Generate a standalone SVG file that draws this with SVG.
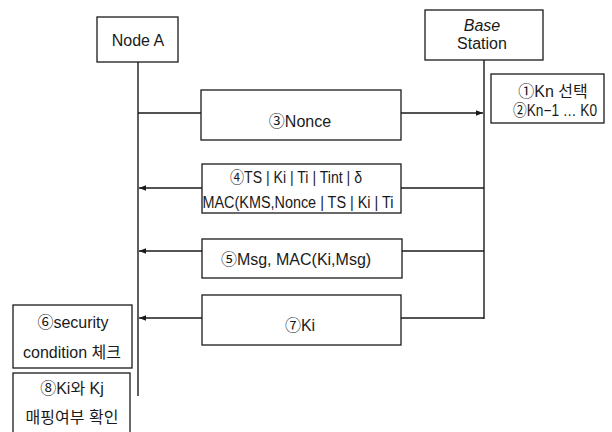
<svg xmlns="http://www.w3.org/2000/svg" width="612" height="432" viewBox="0 0 612 432">
  <style>
    .box { fill: #ffffff; stroke: #1a1a1a; stroke-width: 1.3; }
    .line { stroke: #1a1a1a; stroke-width: 1.4; fill: none; }
    .t { font-family: "Liberation Sans", "Noto Sans CJK KR", sans-serif; font-size: 16px; fill: #1a1a1a; text-anchor: middle; }
  </style>
  <defs>
    <marker id="arrow" viewBox="0 0 10 10" refX="10" refY="5" markerWidth="7" markerHeight="7" orient="auto" markerUnits="userSpaceOnUse">
      <path d="M0,1 L10,5 L0,9 Z" fill="#1a1a1a"/>
    </marker>
  </defs>
  <rect width="612" height="432" fill="#ffffff"/>

  <!-- lifelines and messages -->
  <g id="connectors">
    <line class="line" x1="138" y1="62" x2="138" y2="396"/>
    <line class="line" x1="484" y1="60" x2="484" y2="319"/>
    <line class="line" x1="138" y1="113" x2="483" y2="113" marker-end="url(#arrow)"/>
    <line class="line" x1="484" y1="188" x2="139" y2="188" marker-end="url(#arrow)"/>
    <line class="line" x1="484" y1="251" x2="139" y2="251" marker-end="url(#arrow)"/>
    <line class="line" x1="484" y1="318" x2="139" y2="318" marker-end="url(#arrow)"/>
  </g>

  <g id="node-a">
    <rect class="box" x="97" y="17" width="81" height="45"/>
    <text class="t" x="138" y="46">Node A</text>
  </g>

  <g id="base-station">
    <rect class="box" x="425" y="10" width="118" height="50"/>
    <text class="t" x="482" y="31" font-style="italic">Base</text>
    <text class="t" x="482" y="49">Station</text>
  </g>

  <g id="key-select">
    <rect class="box" x="491" y="74" width="113" height="49"/>
    <text class="t" x="553" y="97">①Kn 선택</text>
    <text class="t" x="555" y="116" textLength="84" lengthAdjust="spacingAndGlyphs">②Kn−1 … K0</text>
  </g>

  <g id="msg-nonce">
    <rect class="box" x="201" y="90" width="200" height="50"/>
    <text class="t" x="300" y="127">③Nonce</text>
  </g>

  <g id="msg-ts">
    <rect class="box" x="202" y="164" width="199" height="49"/>
    <text class="t" x="296" y="183" textLength="132" lengthAdjust="spacingAndGlyphs">④TS | Ki | Ti | Tint | δ</text>
    <text class="t" x="298" y="208" textLength="191" lengthAdjust="spacingAndGlyphs">MAC(KMS,Nonce | TS | Ki | Ti</text>
  </g>

  <g id="msg-data">
    <rect class="box" x="202" y="239" width="200" height="39"/>
    <text class="t" x="296" y="265">⑤Msg, MAC(Ki,Msg)</text>
  </g>

  <g id="msg-ki">
    <rect class="box" x="202" y="295" width="199" height="50"/>
    <text class="t" x="300" y="331">⑦Ki</text>
  </g>

  <g id="security-check">
    <rect class="box" x="13" y="305" width="119" height="63"/>
    <text class="t" x="73" y="328">⑥security</text>
    <text class="t" x="72" y="358">condition 체크</text>
  </g>

  <g id="mapping-check">
    <rect class="box" x="13" y="373" width="117" height="62"/>
    <text class="t" x="72" y="394">⑧Ki와 Kj</text>
    <text class="t" x="72" y="423">매핑여부 확인</text>
  </g>
</svg>
